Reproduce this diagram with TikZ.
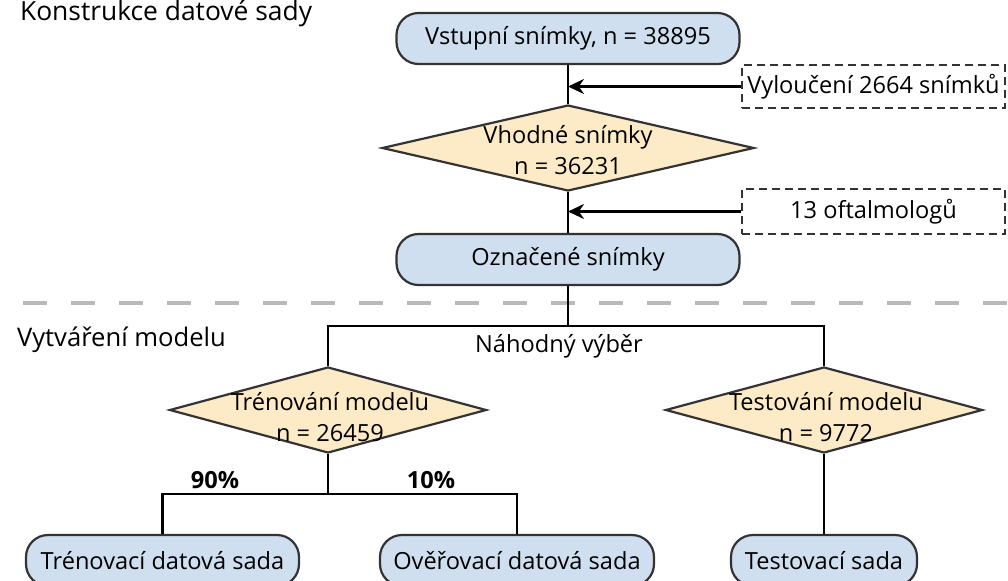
\documentclass[tikz,border=0pt]{standalone}
\usepackage{fontspec}
\setmainfont{Open Sans}
\usetikzlibrary{arrows.meta,shapes.geometric}
\definecolor{boxblue}{HTML}{CFDFEF}
\definecolor{boxtan}{HTML}{FDEBC8}
\definecolor{edgegray}{HTML}{333333}

\begin{document}
\begin{tikzpicture}[x=0.5pt, y=-0.5pt, >={Stealth[length=8pt, width=7.5pt]},
  every node/.style={font=\fontsize{11.8}{15.5}\selectfont},
  pill/.style={draw=edgegray, line width=1.1pt, fill=boxblue, rounded corners=11pt,
    minimum height=25.5pt, inner sep=0pt},
  choice/.style={draw=edgegray, line width=1.1pt, fill=boxtan, diamond,
    minimum width=186pt, minimum height=43pt, inner sep=0pt},
  note/.style={draw=edgegray, line width=1pt, dash pattern=on 4pt off 2.5pt,
    minimum width=131.5pt, inner sep=0pt},
  flow/.style={line width=1.2pt}]
  \useasboundingbox (0,0) rectangle (1008,580);

  % section titles
  \node[anchor=base west, font=\fontsize{13.2}{15}\selectfont] (secdata) at (13,20) {Konstrukce datové sady};
  \node[anchor=base west, font=\fontsize{12.8}{15}\selectfont] (secmodel) at (10,346) {Vytváření modelu};
  \draw[line width=2.2pt, draw=black!27, dash pattern=on 12pt off 12pt] (23,303) -- (1008,303);

  % dataset construction
  \node[pill, minimum width=171.5pt] (input) at (568,38.5) {Vstupní snímky, n = 38895};
  \node[choice] (suit) at (568,148) {};
  \node[align=center] (suittext) at (568,150) {Vhodné snímky\\n = 36231};
  \node[pill, minimum width=171.5pt] (labeled) at (568,259.5) {Označené snímky};
  \node[note, minimum height=21.5pt] (excl) at (873.5,86.5) {Vyloučení 2664 snímků};
  \node[note, minimum height=22.5pt] (oft) at (873.5,211.5) {13 oftalmologů};

  \draw[flow] (input.south) -- (suit.north);
  \draw[flow] (suit.south) -- (labeled.north);
  \draw[flow, ->] (excl.west) -- (excl.west -| input.south);
  \draw[flow, ->] (oft.west) -- (oft.west -| input.south);

  % model building
  \coordinate (split) at (568,326);
  \node[anchor=base] (random) at (559,352) {Náhodný výběr};
  \node[choice, minimum width=158.5pt] (train) at (328,410) {};
  \node[align=center] (traintext) at (330,417) {Trénování modelu\\n = 26459};
  \node[choice, minimum width=158.5pt] (test) at (824,410) {};
  \node[align=center] (testtext) at (826,417) {Testování modelu\\n = 9772};
  \node[pill, minimum width=136.5pt] (trainset) at (162.5,560.5) {Trénovací datová sada};
  \node[pill, minimum width=137pt] (valset) at (517,560.5) {Ověřovací datová sada};
  \node[pill, minimum width=93pt] (testset) at (824,560.5) {Testovací sada};
  \coordinate (fork) at (328,494);
  \node[anchor=base, font=\fontsize{11.8}{12}\selectfont\bfseries] (ninety) at (215,488) {90\%};
  \node[anchor=base, font=\fontsize{11.8}{12}\selectfont\bfseries] (ten) at (431,488) {10\%};

  \draw[flow] (labeled.south) -- (split);
  \draw[flow] (train.north) |- (split) -| (test.north);
  \draw[flow] (train.south) -- (fork);
  \draw[flow] (trainset.north) |- (fork) -| (valset.north);
  \draw[flow] (test.south) -- (testset.north);
\end{tikzpicture}
\end{document}
